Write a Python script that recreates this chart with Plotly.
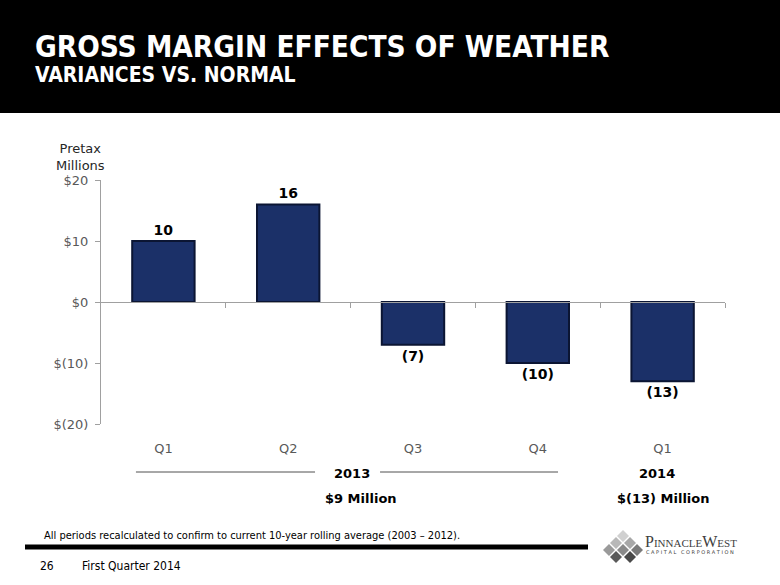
import plotly.graph_objects as go

categories = ["Q1", "Q2", "Q3", "Q4", "Q1"]
values = [10, 16, -7, -10, -13]
ytick_vals = [20, 10, 0, -10, -20]
ytick_text = ["$20", "$10", "$0", "$(10)", "$(20)"]
year_labels = ["2013", "2014"]
year_totals = ["$9 Million", "$(13) Million"]

bar_labels = [str(v) if v >= 0 else "(" + str(-v) + ")" for v in values]
xpos = list(range(len(categories)))

# plot area in pixels
W, H = 780, 585
L, R, T, B = 101, 725, 180, 424


def px(x):
    return (x - L) / (R - L)


def py(y):
    return (B - y) / (B - T)


fig = go.Figure()
fig.add_trace(go.Bar(
    x=xpos, y=values, width=0.5,
    marker=dict(color="#1b3068", line=dict(color="#0b1533", width=2)),
    text=bar_labels, textposition="outside", cliponaxis=False,
    textfont=dict(family="DejaVu Sans", size=14, color="#000000", weight="bold"),
    hoverinfo="skip",
))
# dummy trace so the zero-line axis is drawn
fig.add_trace(go.Scatter(x=[None], y=[None], xaxis="x2", yaxis="y",
                         showlegend=False, hoverinfo="skip"))

shapes = []
# header band
shapes.append(dict(type="rect", xref="paper", yref="paper",
                   x0=px(0), x1=px(W), y0=py(113), y1=py(0),
                   fillcolor="#000000", line=dict(width=0), layer="below"))
# year bracket lines (in category coordinates)
for a, b in [(-0.22, 1.215), (1.736, 3.162)]:
    shapes.append(dict(type="line", xref="x", yref="paper",
                       x0=a, x1=b, y0=py(472), y1=py(472),
                       line=dict(color="#505050", width=1)))
# footer thick rule
shapes.append(dict(type="line", xref="paper", yref="paper",
                   x0=px(25), x1=px(588), y0=py(547), y1=py(547),
                   line=dict(color="#000000", width=5)))
# logo diamonds
diamonds = [(623, 536, "#d0d0d0"),
            (616, 543, "#b8b8b8"), (630, 543, "#a8a8a8"),
            (609, 550, "#9a9a9a"), (623, 550, "#8a8a8a"), (637, 550, "#7a7a7a"),
            (616, 557, "#5a5a5a"), (630, 557, "#4a4a4a")]
for cx, cy, col in diamonds:
    d = 6
    path = "M {} {} L {} {} L {} {} L {} {} Z".format(
        px(cx), py(cy - d), px(cx + d), py(cy), px(cx), py(cy + d), px(cx - d), py(cy))
    shapes.append(dict(type="path", xref="paper", yref="paper", path=path,
                       fillcolor=col, line=dict(width=0)))

annotations = [
    dict(text="<b>GROSS MARGIN EFFECTS OF WEATHER</b>", x=px(33), y=py(47),
         xanchor="left", yanchor="middle",
         font=dict(family="DejaVu Sans Condensed", size=29.5, color="#ffffff")),
    dict(text="<b>VARIANCES VS. NORMAL</b>", x=px(33), y=py(75),
         xanchor="left", yanchor="middle",
         font=dict(family="DejaVu Sans Condensed", size=21, color="#ffffff")),
    dict(text="Pretax<br>Millions", x=px(80), y=py(157), xanchor="center", yanchor="middle",
         font=dict(family="DejaVu Sans", size=13, color="#262626")),
    dict(text="<b>" + year_labels[0] + "</b>", x=px(352), y=py(473),
         xanchor="center", yanchor="middle",
         font=dict(family="DejaVu Sans", size=13, color="#000000")),
    dict(text="<b>" + year_labels[1] + "</b>", x=px(657), y=py(473),
         xanchor="center", yanchor="middle",
         font=dict(family="DejaVu Sans", size=13, color="#000000")),
    dict(text="<b>" + year_totals[0] + "</b>", x=px(361), y=py(498),
         xanchor="center", yanchor="middle",
         font=dict(family="DejaVu Sans", size=13, color="#000000")),
    dict(text="<b>" + year_totals[1] + "</b>", x=px(663), y=py(498),
         xanchor="center", yanchor="middle",
         font=dict(family="DejaVu Sans", size=13, color="#000000")),
    dict(text="All periods recalculated to confirm to current 10-year rolling average (2003 \u2013 2012).",
         x=px(42), y=py(535), xanchor="left", yanchor="middle",
         font=dict(family="DejaVu Sans Condensed", size=11, color="#000000")),
    dict(text="26", x=px(38), y=py(566), xanchor="left", yanchor="middle",
         font=dict(family="DejaVu Sans Condensed", size=12, color="#000000")),
    dict(text="First Quarter 2014", x=px(80), y=py(566), xanchor="left", yanchor="middle",
         font=dict(family="DejaVu Sans Condensed", size=12, color="#000000")),
    dict(text="P<span style='font-size:11px'>INNACLE</span>W<span style='font-size:11px'>EST</span>",
         x=px(643), y=py(541), xanchor="left", yanchor="middle",
         font=dict(family="Liberation Serif", size=16, color="#404040")),
    dict(text="C A P I T A L   C O R P O R A T I O N", x=px(644), y=py(552),
         xanchor="left", yanchor="middle",
         font=dict(family="DejaVu Sans", size=5, color="#404040")),
]
for a in annotations:
    a.setdefault("xref", "paper")
    a.setdefault("yref", "paper")
    a.setdefault("showarrow", False)

fig.update_layout(
    width=W, height=H,
    margin=dict(l=L, r=W - R, t=T, b=H - B, pad=0),
    paper_bgcolor="#ffffff", plot_bgcolor="#ffffff",
    showlegend=False,
    shapes=shapes, annotations=annotations,
    xaxis=dict(range=[-0.5, 4.5], tickvals=xpos, ticktext=categories,
               showline=False, showgrid=False, zeroline=False,
               ticks="outside", ticklen=12, tickcolor="rgba(0,0,0,0)",
               tickfont=dict(family="DejaVu Sans", size=13, color="#595959")),
    xaxis2=dict(range=[-0.5, 4.5], overlaying="x", anchor="free", position=0.5,
                tickvals=[0.5, 1.5, 2.5, 3.5, 4.5], showticklabels=False,
                ticks="outside", ticklen=5, tickcolor="#a0a0a0",
                showline=True, linecolor="#a0a0a0", linewidth=1,
                showgrid=False, zeroline=False),
    yaxis=dict(range=[-20, 20], domain=[0, 1], tickvals=ytick_vals, ticktext=ytick_text,
               showline=True, linecolor="#a0a0a0", linewidth=1,
               ticks="outside", ticklen=5, tickcolor="#a0a0a0",
               ticklabelstandoff=4,
               showgrid=False, zeroline=False,
               tickfont=dict(family="DejaVu Sans", size=13, color="#595959")),
)

fig.write_html("out.html", config={"displayModeBar": False},
               post_script="document.body.style.margin='0';document.body.style.overflow='hidden';")
